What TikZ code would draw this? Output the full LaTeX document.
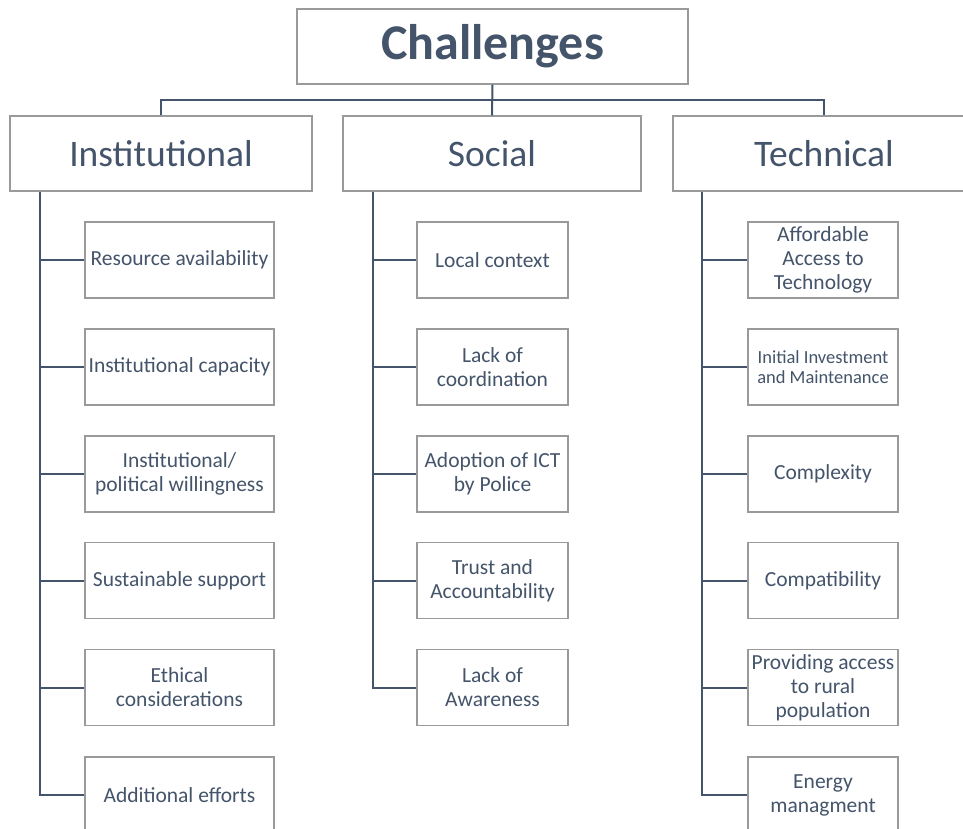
\documentclass[tikz,border=0pt]{standalone}
\usepackage{fontspec}
\setmainfont{Carlito}
\definecolor{txt}{HTML}{44546A}
\definecolor{boxline}{HTML}{9A9A9A}
\definecolor{conn}{HTML}{44546A}
\tikzset{
  basebox/.style={draw=boxline, line width=1.2pt, fill=white, text=txt, align=center, inner sep=0pt, anchor=center},
  topbox/.style={basebox, minimum width=391pt, minimum height=75pt, font=\fontsize{50}{58}\selectfont\bfseries},
  catbox/.style={basebox, minimum width=302pt, minimum height=75pt, font=\fontsize{37.5}{44}\selectfont},
  instbox/.style={basebox, minimum width=189pt, minimum height=76pt, font=\fontsize{21.5}{24}\selectfont},
  colbox/.style={basebox, minimum width=151pt, minimum height=76pt, font=\fontsize{21.5}{24}\selectfont},
  smalltxt/.style={font=\fontsize{18.5}{20.5}\selectfont},
  link/.style={draw=conn, line width=2pt}
}
\begin{document}
\begin{tikzpicture}[x=1pt,y=-1pt]
\useasboundingbox (0,0) rectangle (963,828);
\clip (0,0) rectangle (963,828);
% top
\node[topbox] (ch) at (492.5,46.5) {Challenges};
\node[catbox] (inst) at (161,153.5) {Institutional};
\node[catbox, minimum width=298pt] (soc) at (492,153.5) {Social};
\node[catbox] (tech) at (824,153.5) {Technical};
\coordinate (bus) at (0,100);
% institutional children
\node[instbox] (i1) at (179.5,260) {Resource availability};
\node[instbox] (i2) at (179.5,367) {Institutional capacity};
\node[instbox] (i3) at (179.5,474) {Institutional/\\political willingness};
\node[instbox] (i4) at (179.5,580.5) {Sustainable support};
\node[instbox] (i5) at (179.5,687.5) {Ethical\\considerations};
\node[instbox] (i6) at (179.5,795) {Additional efforts};
% social children
\node[colbox] (s1) at (492.5,260) {Local context};
\node[colbox] (s2) at (492.5,367) {Lack of\\coordination};
\node[colbox] (s3) at (492.5,474) {Adoption of ICT\\by Police};
\node[colbox] (s4) at (492.5,580.5) {Trust and\\Accountability};
\node[colbox] (s5) at (492.5,687.5) {Lack of\\Awareness};
% technical children
\node[colbox, minimum width=150pt] (t1) at (823,260) {Affordable\\Access to\\Technology};
\node[colbox, minimum width=150pt, smalltxt] (t2) at (823,367) {Initial Investment\\and Maintenance};
\node[colbox, minimum width=150pt] (t3) at (823,474) {Complexity};
\node[colbox, minimum width=150pt] (t4) at (823,580.5) {Compatibility};
\node[colbox, minimum width=150pt] (t5) at (823,687.5) {Providing access\\to rural\\population};
\node[colbox, minimum width=150pt] (t6) at (823,795) {Energy\\managment};
% top connectors
\draw[link] (ch.south) -- (soc.north);
\draw[link] (inst.north) -- (inst.north |- bus) -| (tech.north);
% trunks
\coordinate (it) at ([xshift=31pt]inst.south west);
\coordinate (st) at ([xshift=31pt]soc.south west);
\coordinate (tt) at ([xshift=30pt]tech.south west);
\draw[link] (it) |- (i6.west);
\foreach \n in {i1,i2,i3,i4,i5} \draw[link] (it |- \n.west) -- (\n.west);
\draw[link] (st) |- (s5.west);
\foreach \n in {s1,s2,s3,s4} \draw[link] (st |- \n.west) -- (\n.west);
\draw[link] (tt) |- (t6.west);
\foreach \n in {t1,t2,t3,t4,t5} \draw[link] (tt |- \n.west) -- (\n.west);
\end{tikzpicture}
\end{document}
